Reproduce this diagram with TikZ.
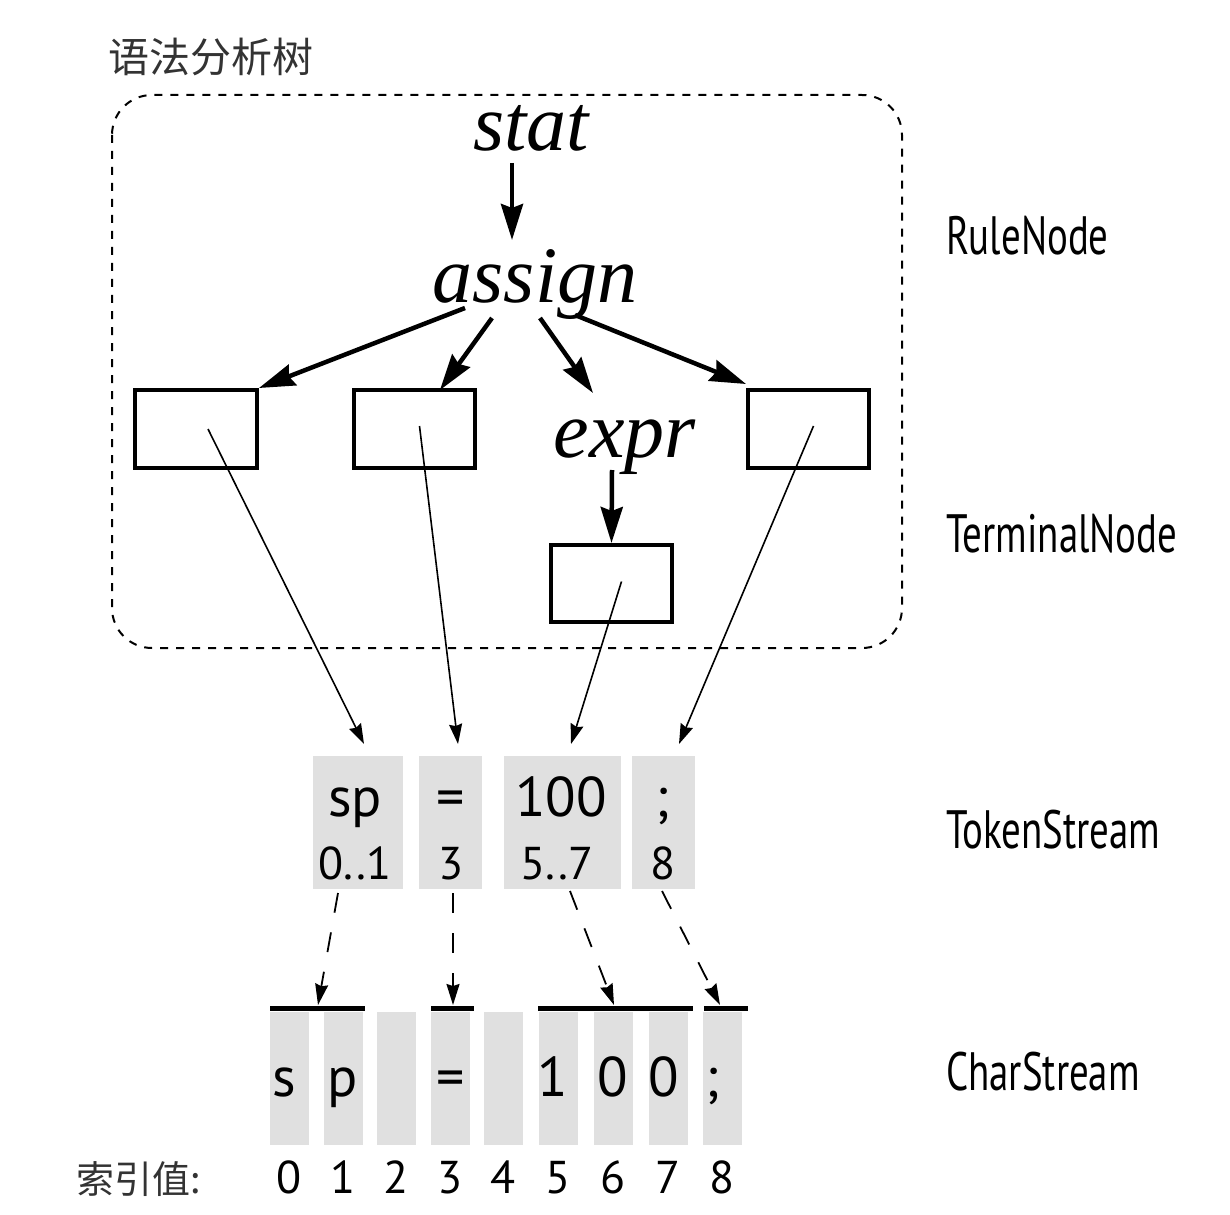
\documentclass[tikz,border=0pt]{standalone}
\usepackage{fontspec}
\setmainfont{Liberation Serif}
\newfontfamily\sansf{PT Sans}
\newfontfamily\cjkf{Noto Sans CJK SC}
\usetikzlibrary{arrows.meta,calc}
\begin{document}
\begin{tikzpicture}[x=1pt,y=-1pt,
  boxnode/.style={draw,line width=4pt,minimum width=118pt,minimum height=74pt,inner sep=0pt},
  rulelbl/.style={font=\fontsize{80}{84}\selectfont\itshape,inner sep=0pt,anchor=base},
  thickarr/.style={line width=4.5pt,-{Stealth[length=36pt,width=22pt,inset=4pt]}},
  thinarr/.style={line width=1.6pt,-{Stealth[length=20pt,width=13pt,inset=2pt]}},
  dasharr/.style={line width=1.8pt,dash pattern=on 20pt off 20pt,-{Stealth[length=21pt,width=13pt,inset=2pt,sep=0pt]}},
  tokbox/.style={fill=black!12,draw=none,minimum height=133pt,inner sep=0pt},
  chbox/.style={fill=black!12,draw=none,minimum width=39pt,minimum height=133pt,inner sep=0pt},
  toktop/.style={font=\sansf\fontsize{56}{60}\selectfont,inner sep=0pt,anchor=base},
  tokbot/.style={font=\sansf\fontsize{46}{50}\selectfont,inner sep=0pt,anchor=base},
  chtxt/.style={font=\sansf\fontsize{56}{60}\selectfont,inner sep=0pt,anchor=base},
  idxtxt/.style={font=\sansf\fontsize{46}{50}\selectfont,inner sep=0pt,anchor=base},
  sidelbl/.style={font=\sansf\fontsize{54}{58}\selectfont,inner sep=0pt,anchor=base west},
  bar/.style={line width=5pt}
]
\useasboundingbox (0,0) rectangle (1230,1214);
% title
\node[font=\cjkf\fontsize{41}{44}\selectfont,inner sep=0pt,anchor=base west,text=black!80] (title) at (108,73) {语法分析树};
% dashed frame
\draw[line width=2pt,dash pattern=on 8pt off 8pt,rounded corners=40pt] (112,95) rectangle (902,648);
% rule nodes
\node[rulelbl] (stat) at (531,151) {stat};
\node[rulelbl] (assign) at (535,302) {assign};
\node[rulelbl] (expr) at (625,457) {expr};
% terminal boxes
\node[boxnode,minimum width=122pt,minimum height=78pt] (b1) at (196,429) {};
\node[boxnode,minimum width=121pt,minimum height=78pt] (b2) at (414.5,429) {};
\node[boxnode,minimum width=121pt,minimum height=78pt] (b4) at (808.5,429) {};
\node[boxnode,minimum width=121pt,minimum height=77pt] (b3) at (611.5,583.5) {};
% coordinates for thick arrows
\coordinate (s0) at (512,163);
\coordinate (s1) at (512,240);
\coordinate (a1) at (465,308);
\coordinate (a2) at (492,318);
\coordinate (a3) at (540,318);
\coordinate (a4) at (575,315);
\coordinate (t2) at (440,390);
\coordinate (t3) at (593,393);
\coordinate (e0) at (612,470);
\draw[thickarr] (s0) -- (s1);
\draw[thickarr] (a1) -- (b1.north east);
\draw[thickarr] (a2) -- (t2);
\draw[thickarr] (a3) -- (t3);
\draw[thickarr] (a4) -- ([yshift=4pt]b4.north west);
\draw[thickarr] (e0) -- (b3.north);
% token stream
\node[tokbox,minimum width=90pt] (k1) at (357.5,822.5) {};
\node[tokbox,minimum width=63pt] (k2) at (450.5,822.5) {};
\node[tokbox,minimum width=117pt] (k3) at (562.5,822.5) {};
\node[tokbox,minimum width=63pt] (k4) at (663.5,822.5) {};
\node[toktop] at (355,816) {sp};
\node[toktop] at (451,816) {=};
\node[toktop] at (561,816) {100};
\node[toktop] at (663,816) {;};
\node[tokbot] at (355,879) {0..1};
\node[tokbot] at (451,879) {3};
\node[tokbot] at (557,879) {5..7};
\node[tokbot] at (663,879) {8};
% thin arrows from terminals to tokens
\coordinate (k1t) at (364,744);
\coordinate (k2t) at (458,744);
\coordinate (k3t) at (571,744);
\coordinate (k4t) at (679,744);
\draw[thinarr] ([xshift=12pt]b1.center) -- (k1t);
\draw[thinarr] ([xshift=5pt,yshift=3pt]b2.center) -- (k2t);
\draw[thinarr] ([xshift=10pt,yshift=2pt]b3.center) -- (k3t);
\draw[thinarr] ([xshift=5pt,yshift=3pt]b4.center) -- (k4t);
% char stream
\foreach \i/\x in {0/289.5,1/343,2/396.5,3/450.5,4/503.5,5/558.5,6/613,7/668,8/722.5}{
  \node[chbox] (c\i) at (\x,1078.5) {};
  \node[idxtxt] (n\i) at (\x,1193) {\i};
}
\node[chtxt] at ([xshift=-5pt]c0 |- 0,1096) {s};
\node[chtxt] at (c1 |- 0,1096) {p};
\node[chtxt] at (c3 |- 0,1096) {=};
\node[chtxt] at ([xshift=-6pt]c5 |- 0,1096) {1};
\node[chtxt] at (c6 |- 0,1096) {0};
\node[chtxt] at ([xshift=-4pt]c7 |- 0,1096) {0};
\node[chtxt] at ([xshift=-10pt]c8 |- 0,1096) {;};
% bars
\draw[bar] (270,1008) coordinate (r0) -- (365,1008) coordinate (r1);
\draw[bar] (431,1008) coordinate (r3a) -- (474,1008) coordinate (r3b);
\draw[bar] (538,1008) coordinate (r5) -- (693,1008) coordinate (r7);
\draw[bar] (704,1008) coordinate (r8a) -- (748,1008) coordinate (r8b);
% dashed arrows
\coordinate (d1) at (338,893);
\coordinate (d2) at (453,893);
\coordinate (d3) at (570,891);
\coordinate (d4) at (662,891);
\coordinate (e1) at (318,1005);
\coordinate (e2) at (453,1005);
\coordinate (e3) at (614,1005);
\coordinate (e4) at (720,1005);
\draw[dasharr] (d1) -- (e1);
\draw[dasharr] (d2) -- (e2);
\draw[dasharr] (d3) -- (e3);
\draw[dasharr] (d4) -- (e4);
% index label
\node[font=\cjkf\fontsize{38}{42}\selectfont,inner sep=0pt,anchor=base west,text=black!80] (idx) at (76,1193) {索引值:};
% side labels
\node[sidelbl] (l1) at (946,255) {\scalebox{0.72}[1]{RuleNode}};
\node[sidelbl] (l2) at (946,552) {\scalebox{0.72}[1]{TerminalNode}};
\node[sidelbl] (l3) at (946,848) {\scalebox{0.72}[1]{TokenStream}};
\node[sidelbl] (l4) at (946,1090) {\scalebox{0.72}[1]{CharStream}};
\end{tikzpicture}
\end{document}
